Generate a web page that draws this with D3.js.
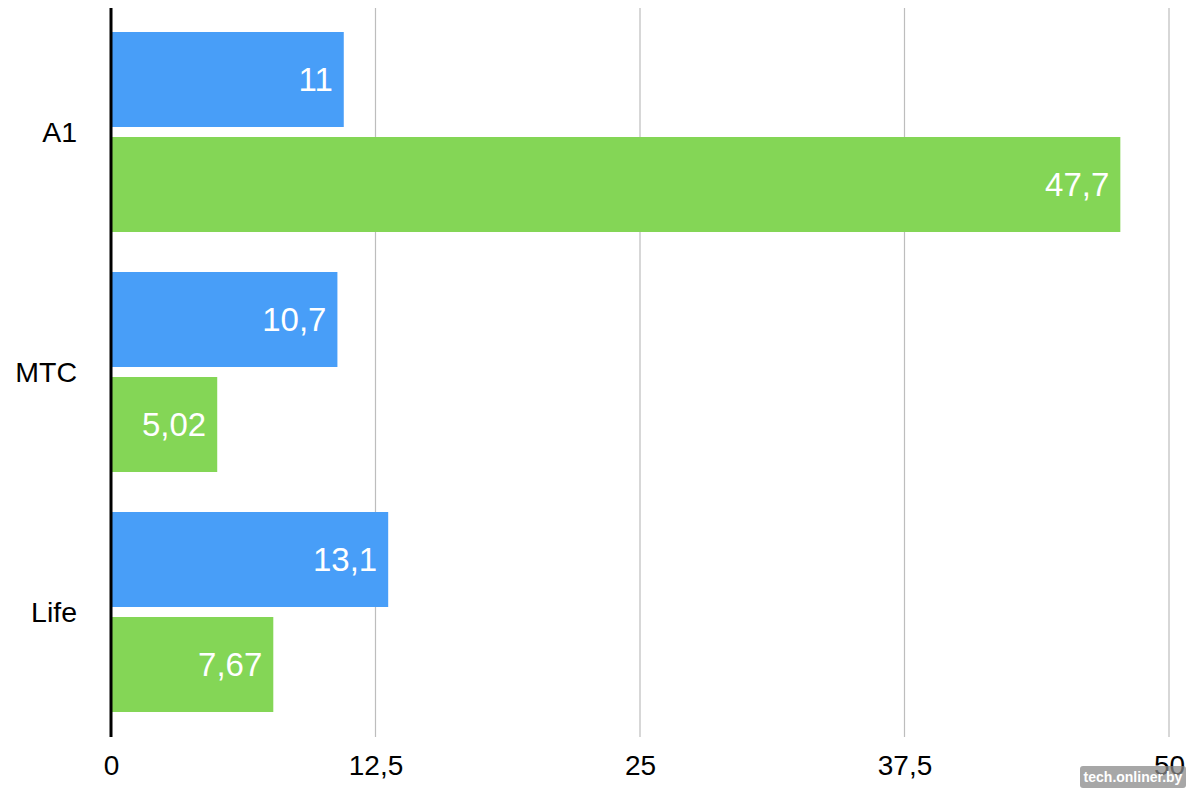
<!DOCTYPE html>
<html>
<head>
<meta charset="utf-8">
<script src="https://cdn.jsdelivr.net/npm/d3@7"></script>
<style>
    html, body { margin: 0; padding: 0; background: #ffffff; }
    svg { display: block; font-family: 'Liberation Sans', Arial, Helvetica, sans-serif; }
</style>
</head>
<body>
<div id="chart"></div>
<script>
const CATEGORIES = ['A1', 'MTC', 'Life'];
const SERIES_KEYS = ['blue', 'green'];
const BLUE_VALUES = [11, 10.7, 13.1];
const GREEN_VALUES = [47.7, 5.02, 7.67];
const TICK_VALUES = [0, 12.5, 25, 37.5, 50];

const COLORS = { blue: '#489ef8', green: '#84d656' };

const width = 1200;
const height = 800;
const plotLeft = 111;
const plotRight = 1169;
const plotTop = 8;
const plotBottom = 737;

const formatComma = (value) => String(value).replace('.', ',');

const rows = CATEGORIES.map((category, index) => ({
    category,
    values: [
        { key: 'blue', value: BLUE_VALUES[index] },
        { key: 'green', value: GREEN_VALUES[index] }
    ]
}));

const svg = d3.select('#chart').append('svg')
    .attr('width', width)
    .attr('height', height);

const xScale = d3.scaleLinear()
    .domain([0, 50])
    .range([plotLeft, plotRight]);

const yScale = d3.scaleBand()
    .domain(CATEGORIES)
    .range([12, 732])
    .paddingInner(1 / 6)
    .paddingOuter(1 / 12);

const subScale = d3.scaleBand()
    .domain(SERIES_KEYS)
    .range([0, yScale.bandwidth()])
    .paddingInner(10 / 105);

// vertical grid lines
svg.append('g')
    .selectAll('line')
    .data(TICK_VALUES.filter((tick) => tick > 0))
    .join('line')
    .attr('x1', (tick) => xScale(tick))
    .attr('x2', (tick) => xScale(tick))
    .attr('y1', plotTop)
    .attr('y2', plotBottom)
    .attr('stroke', '#bdbdbd')
    .attr('stroke-width', 1.2);

// x tick labels
const xAxis = svg.append('g')
    .attr('transform', `translate(0,${plotBottom})`)
    .call(d3.axisBottom(xScale).tickValues(TICK_VALUES).tickSize(0).tickPadding(0).tickFormat(formatComma));
xAxis.select('.domain').remove();
xAxis.selectAll('text')
    .attr('y', 38)
    .attr('dy', 0)
    .attr('fill', '#000')
    .style('font-size', '28px')
    .style('font-family', "'Liberation Sans', Arial, sans-serif");

// bars
const groups = svg.append('g')
    .selectAll('g')
    .data(rows)
    .join('g')
    .attr('transform', (row) => `translate(0,${yScale(row.category)})`);

groups.selectAll('rect')
    .data((row) => row.values)
    .join('rect')
    .attr('x', xScale(0) + 1)
    .attr('y', (datum) => subScale(datum.key))
    .attr('width', (datum) => xScale(datum.value) - xScale(0) - 1)
    .attr('height', subScale.bandwidth())
    .attr('fill', (datum) => COLORS[datum.key]);

groups.selectAll('text')
    .data((row) => row.values)
    .join('text')
    .attr('x', (datum) => xScale(datum.value) - 11)
    .attr('y', (datum) => subScale(datum.key) + subScale.bandwidth() / 2)
    .attr('dy', '0.36em')
    .attr('text-anchor', 'end')
    .attr('fill', '#ffffff')
    .style('font-size', '33px')
    .text((datum) => formatComma(datum.value));

// category labels
const yAxis = svg.append('g')
    .attr('transform', 'translate(77,0)')
    .call(d3.axisLeft(yScale).tickSize(0).tickPadding(0));
yAxis.select('.domain').remove();
yAxis.selectAll('text')
    .attr('fill', '#000')
    .attr('dy', '0.36em')
    .style('font-size', '28.5px')
    .style('font-family', "'Liberation Sans', Arial, sans-serif");

// left axis line
svg.append('line')
    .attr('x1', xScale(0))
    .attr('x2', xScale(0))
    .attr('y1', plotTop)
    .attr('y2', plotBottom)
    .attr('stroke', '#000')
    .attr('stroke-width', 3);

// watermark
const mark = svg.append('g').attr('transform', 'translate(1080,766)');
mark.append('rect')
    .attr('width', 106)
    .attr('height', 22)
    .attr('rx', 3)
    .attr('fill', '#8a8a8a')
    .attr('opacity', 0.75);
mark.append('text')
    .attr('x', 53)
    .attr('y', 16)
    .attr('text-anchor', 'middle')
    .attr('fill', '#ffffff')
    .style('font-size', '14px')
    .style('font-weight', 'bold')
    .text('tech.onliner.by');
</script>
</body>
</html>
